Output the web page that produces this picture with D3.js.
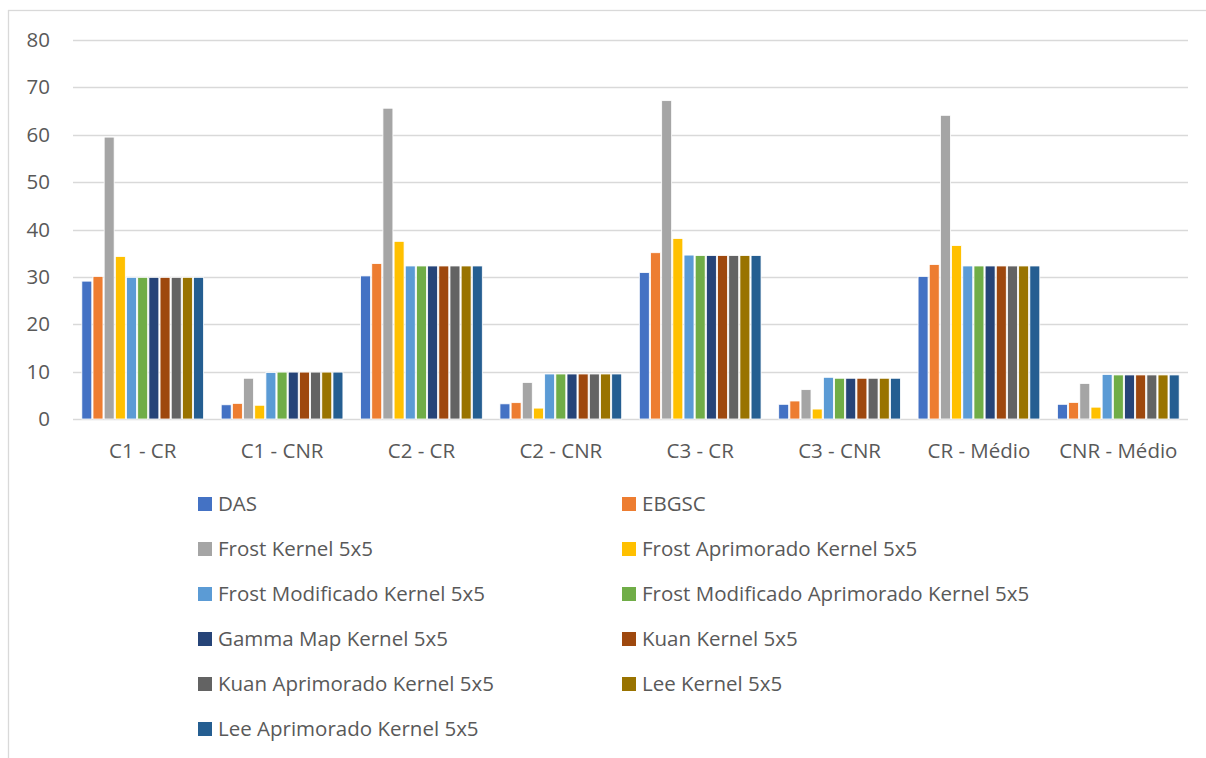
<!DOCTYPE html>
<html><head><meta charset="utf-8">
<script src="https://cdn.jsdelivr.net/npm/d3@7"></script>
<style>body{margin:0;background:#fff;overflow:hidden;} svg{display:block;} text{font-family:"Open Sans","Noto Sans",sans-serif;fill:#595959;}</style>
</head><body>
<svg id="chart" width="1206" height="758"></svg>
<script>
const categories = ["C1 - CR","C1 - CNR","C2 - CR","C2 - CNR","C3 - CR","C3 - CNR","CR - Médio","CNR - Médio"];
const seriesNames = ["DAS","EBGSC","Frost Kernel 5x5","Frost Aprimorado Kernel 5x5","Frost Modificado Kernel 5x5","Frost Modificado Aprimorado Kernel 5x5","Gamma Map Kernel 5x5","Kuan Kernel 5x5","Kuan Aprimorado Kernel 5x5","Lee Kernel 5x5","Lee Aprimorado Kernel 5x5"];
const colors = ["#4472c4","#ed7d31","#a5a5a5","#ffc000","#5b9bd5","#70ad47","#264478","#9e480e","#636363","#997300","#255e91"];
const DAS = [29.1, 3.0, 30.2, 3.2, 30.9, 3.1, 30.1, 3.1];
const EBGSC = [30.1, 3.3, 32.8, 3.45, 35.1, 3.8, 32.6, 3.5];
const Frost = [59.5, 8.6, 65.6, 7.7, 67.2, 6.2, 64.1, 7.5];
const FrostApr = [34.3, 2.9, 37.5, 2.3, 38.1, 2.1, 36.6, 2.5];
const FrostMod = [29.9, 9.8, 32.3, 9.5, 34.6, 8.8, 32.3, 9.4];
const FrostModApr = [29.9, 9.9, 32.3, 9.5, 34.5, 8.6, 32.3, 9.3];
const GammaMap = [29.9, 9.9, 32.3, 9.5, 34.5, 8.6, 32.3, 9.3];
const Kuan = [29.9, 9.9, 32.3, 9.5, 34.5, 8.6, 32.3, 9.3];
const KuanApr = [29.9, 9.9, 32.3, 9.5, 34.5, 8.6, 32.3, 9.3];
const Lee = [29.9, 9.9, 32.3, 9.5, 34.5, 8.6, 32.3, 9.3];
const LeeApr = [29.9, 9.9, 32.3, 9.5, 34.5, 8.6, 32.3, 9.3];
const seriesValues = [DAS, EBGSC, Frost, FrostApr, FrostMod, FrostModApr, GammaMap, Kuan, KuanApr, Lee, LeeApr];
const yTicks = [0,10,20,30,40,50,60,70,80];

const FS = 20.5;
const svg = d3.select("#chart");
svg.append("rect").attr("x",8.5).attr("y",10.5).attr("width",1260).attr("height",800)
  .attr("fill","#fff").attr("stroke","#d9d9d9").attr("stroke-width",1.3);

const pLeft = 73, pRight = 1188, pTop = 40, pBottom = 419;
const x0 = d3.scaleBand().domain(categories).range([pLeft,pRight]).paddingInner(0.118).paddingOuter(0.059);
const x1 = d3.scaleBand().domain(seriesNames).range([0,x0.bandwidth()]).padding(0);
const y = d3.scaleLinear().domain([0,80]).range([pBottom,pTop]);

// gridlines
svg.append("g").selectAll("line").data(yTicks).join("line")
  .attr("x1",pLeft).attr("x2",pRight)
  .attr("y1",d=>Math.round(y(d))+0.5).attr("y2",d=>Math.round(y(d))+0.5)
  .attr("stroke","#d9d9d9").attr("stroke-width",1.3);

// y axis labels
const yAxis = d3.axisLeft(y).tickValues(yTicks).tickSize(0).tickPadding(0);
const ga = svg.append("g").attr("transform",`translate(50,0)`).call(yAxis);
ga.select(".domain").remove();
ga.attr("font-family",null).attr("font-size",null);
ga.selectAll("text").attr("font-size",FS).attr("fill","#595959");

// x axis labels
const xAxis = d3.axisBottom(x0).tickSize(0).tickPadding(0);
const gx = svg.append("g").attr("transform",`translate(0,${pBottom+32})`).call(xAxis);
gx.select(".domain").remove();
gx.attr("font-family",null).attr("font-size",null);
gx.selectAll("text").attr("font-size",FS).attr("fill","#595959").attr("dy","0.35em");

// bars
const groups = svg.append("g").selectAll("g").data(categories).join("g")
  .attr("transform",d=>`translate(${x0(d)},0)`);
groups.selectAll("rect").data((c,ci)=>seriesNames.map((s,si)=>({s,si,v:seriesValues[si][ci]}))).join("rect")
  .attr("x",d=>x1(d.s)+0.6).attr("width",x1.bandwidth()-1.2)
  .attr("y",d=>y(d.v)).attr("height",d=>y(0)-y(d.v))
  .attr("fill",d=>colors[d.si]).attr("stroke","#fff").attr("stroke-width",0.8);

// legend
const leg = svg.append("g");
seriesNames.forEach((s,i)=>{
  const col = i%2, row = Math.floor(i/2);
  const lx = col===0 ? 198 : 622, ly = 504 + row*45;
  const g = leg.append("g").attr("transform",`translate(${lx},${ly})`);
  g.append("rect").attr("x",0).attr("y",-7).attr("width",14).attr("height",14).attr("fill",colors[i]);
  g.append("text").attr("x",20).attr("y",0).attr("dy","0.35em").attr("font-size",FS).text(s);
});
</script>
</body></html>
